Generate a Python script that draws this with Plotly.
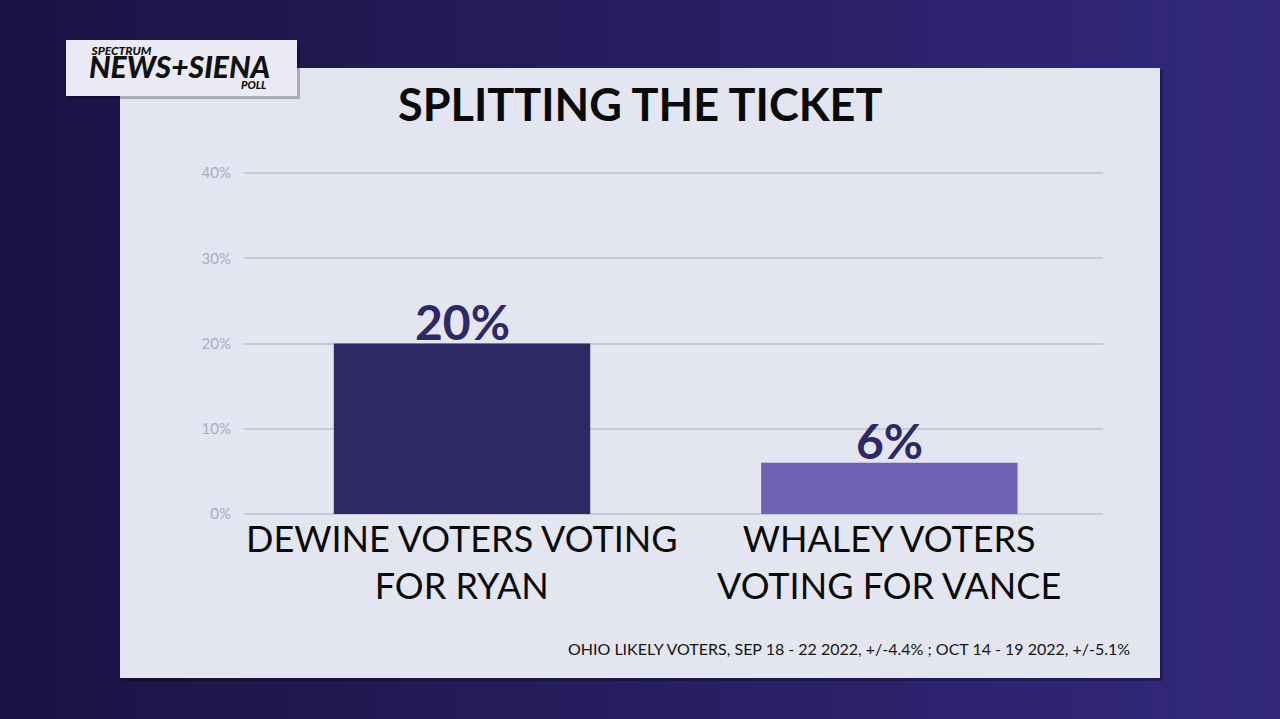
import plotly.graph_objects as go

categories = ["DEWINE VOTERS VOTING<br>FOR RYAN", "WHALEY VOTERS<br>VOTING FOR VANCE"]
values = [20, 6]
value_labels = ["20%", "6%"]
bar_colors = ["#2e2964", "#6f62b6"]
tick_vals = [0, 10, 20, 30, 40]
tick_text = ["0%", "10%", "20%", "30%", "40%"]

title_text = "SPLITTING THE TICKET"
footnote = "OHIO LIKELY VOTERS, SEP 18 - 22 2022, +/-4.4% ; OCT 14 - 19 2022, +/-5.1%"

W, H = 1280, 719
L, R, T, B = 244, 1103, 170, 514  # plot area in pixels
Y_TOP = 40 * (B - T) / 341.0       # keeps 40% gridline at pixel 173


def px(x):
    return (x - L) / (R - L)


def py(y):
    return (B - y) / (B - T)


def lerp(c1, c2, t):
    a = [int(c1[i:i + 2], 16) for i in (1, 3, 5)]
    b = [int(c2[i:i + 2], 16) for i in (1, 3, 5)]
    return "#" + "".join(f"{round(a[k] + (b[k] - a[k]) * t):02x}" for k in range(3))


shapes = []
# background gradient
n = 48
for i in range(n):
    x0 = W * i / n
    x1 = W * (i + 1) / n + 1
    shapes.append(dict(type="rect", xref="paper", yref="paper", layer="below",
                       x0=px(x0), x1=px(x1), y0=py(H + 2), y1=py(-2),
                       fillcolor=lerp("#1b1344", "#33287c", i / (n - 1)), line_width=0))
# panel shadow + panel
shapes.append(dict(type="rect", xref="paper", yref="paper", layer="below",
                   x0=px(122), x1=px(1163), y0=py(681), y1=py(70),
                   fillcolor="rgba(0,0,0,0.25)", line_width=0))
shapes.append(dict(type="rect", xref="paper", yref="paper", layer="below",
                   x0=px(120), x1=px(1160), y0=py(678), y1=py(68),
                   fillcolor="#e3e5f0", line_width=0))
# logo box shadow + box
shapes.append(dict(type="rect", xref="paper", yref="paper", layer="below",
                   x0=px(68), x1=px(300), y0=py(99), y1=py(42),
                   fillcolor="rgba(0,0,0,0.25)", line_width=0))
shapes.append(dict(type="rect", xref="paper", yref="paper", layer="below",
                   x0=px(66), x1=px(297), y0=py(96), y1=py(40),
                   fillcolor="#e9eaf3", line_width=0))

fig = go.Figure()
fig.add_trace(go.Bar(
    x=categories, y=values, marker=dict(color=bar_colors, line_width=0),
    width=0.6, hoverinfo="skip",
))

logo_text = ("<span style='font-size:12px'>&nbsp;SPECTRUM</span><br>&nbsp;<br>"
             "<span style='font-size:30px'>NEWS+SIENA</span><br>"
             "<span style='font-size:11px'>" + "&nbsp;" * 65 + "POLL</span>")

annotations = [
    dict(text=title_text, xref="paper", yref="paper", x=px(640), y=py(104),
         xanchor="center", yanchor="middle", showarrow=False,
         font=dict(family="Lato", size=45, color="#0a0a0a", weight=700)),
    dict(text=footnote, xref="paper", yref="paper", x=px(1132), y=py(648),
         xanchor="right", yanchor="middle", showarrow=False,
         font=dict(family="Lato", size=16, color="#141414")),
    dict(text=logo_text, xref="paper", yref="paper", x=px(87), y=py(41),
         xanchor="left", yanchor="top", showarrow=False, align="left",
         font=dict(family="Lato", size=8.8, color="#111", weight=900, style="italic")),
]

# value labels above bars
for cat, v, lab in zip(categories, values, value_labels):
    annotations.append(dict(
        text=lab, xref="x", yref="y", x=cat, y=v, xanchor="center",
        yanchor="bottom", yshift=-8, showarrow=False,
        font=dict(family="Lato", size=48, color="#2e2964", weight=700)))

# category labels
for cat in categories:
    annotations.append(dict(
        text=cat, xref="x", yref="paper", x=cat, y=py(514),
        xanchor="center", yanchor="top", showarrow=False,
        font=dict(family="Lato", size=36, color="#0a0a0a")))

fig.update_layout(
    width=W, height=H,
    margin=dict(l=L, r=W - R, t=T, b=H - B, pad=0),
    paper_bgcolor="#241a5a", plot_bgcolor="rgba(0,0,0,0)",
    showlegend=False, shapes=shapes, annotations=annotations,
    bargap=0.4,
    xaxis=dict(showgrid=False, zeroline=False, showline=False, ticks="",
               showticklabels=False, fixedrange=True),
    yaxis=dict(range=[0, Y_TOP], tickvals=tick_vals, ticktext=tick_text,
               showgrid=True, gridcolor="#c7c9d8", gridwidth=2,
               zeroline=True, zerolinecolor="#c7c9d8", zerolinewidth=2,
               showline=False, ticks="", ticklabelstandoff=12,
               tickfont=dict(family="Lato", size=15, color="#a9abc8"),
               fixedrange=True),
)

fig.write_html("out.html", config={"displayModeBar": False},
               post_script="document.body.style.margin='0';document.body.style.overflow='hidden';")
